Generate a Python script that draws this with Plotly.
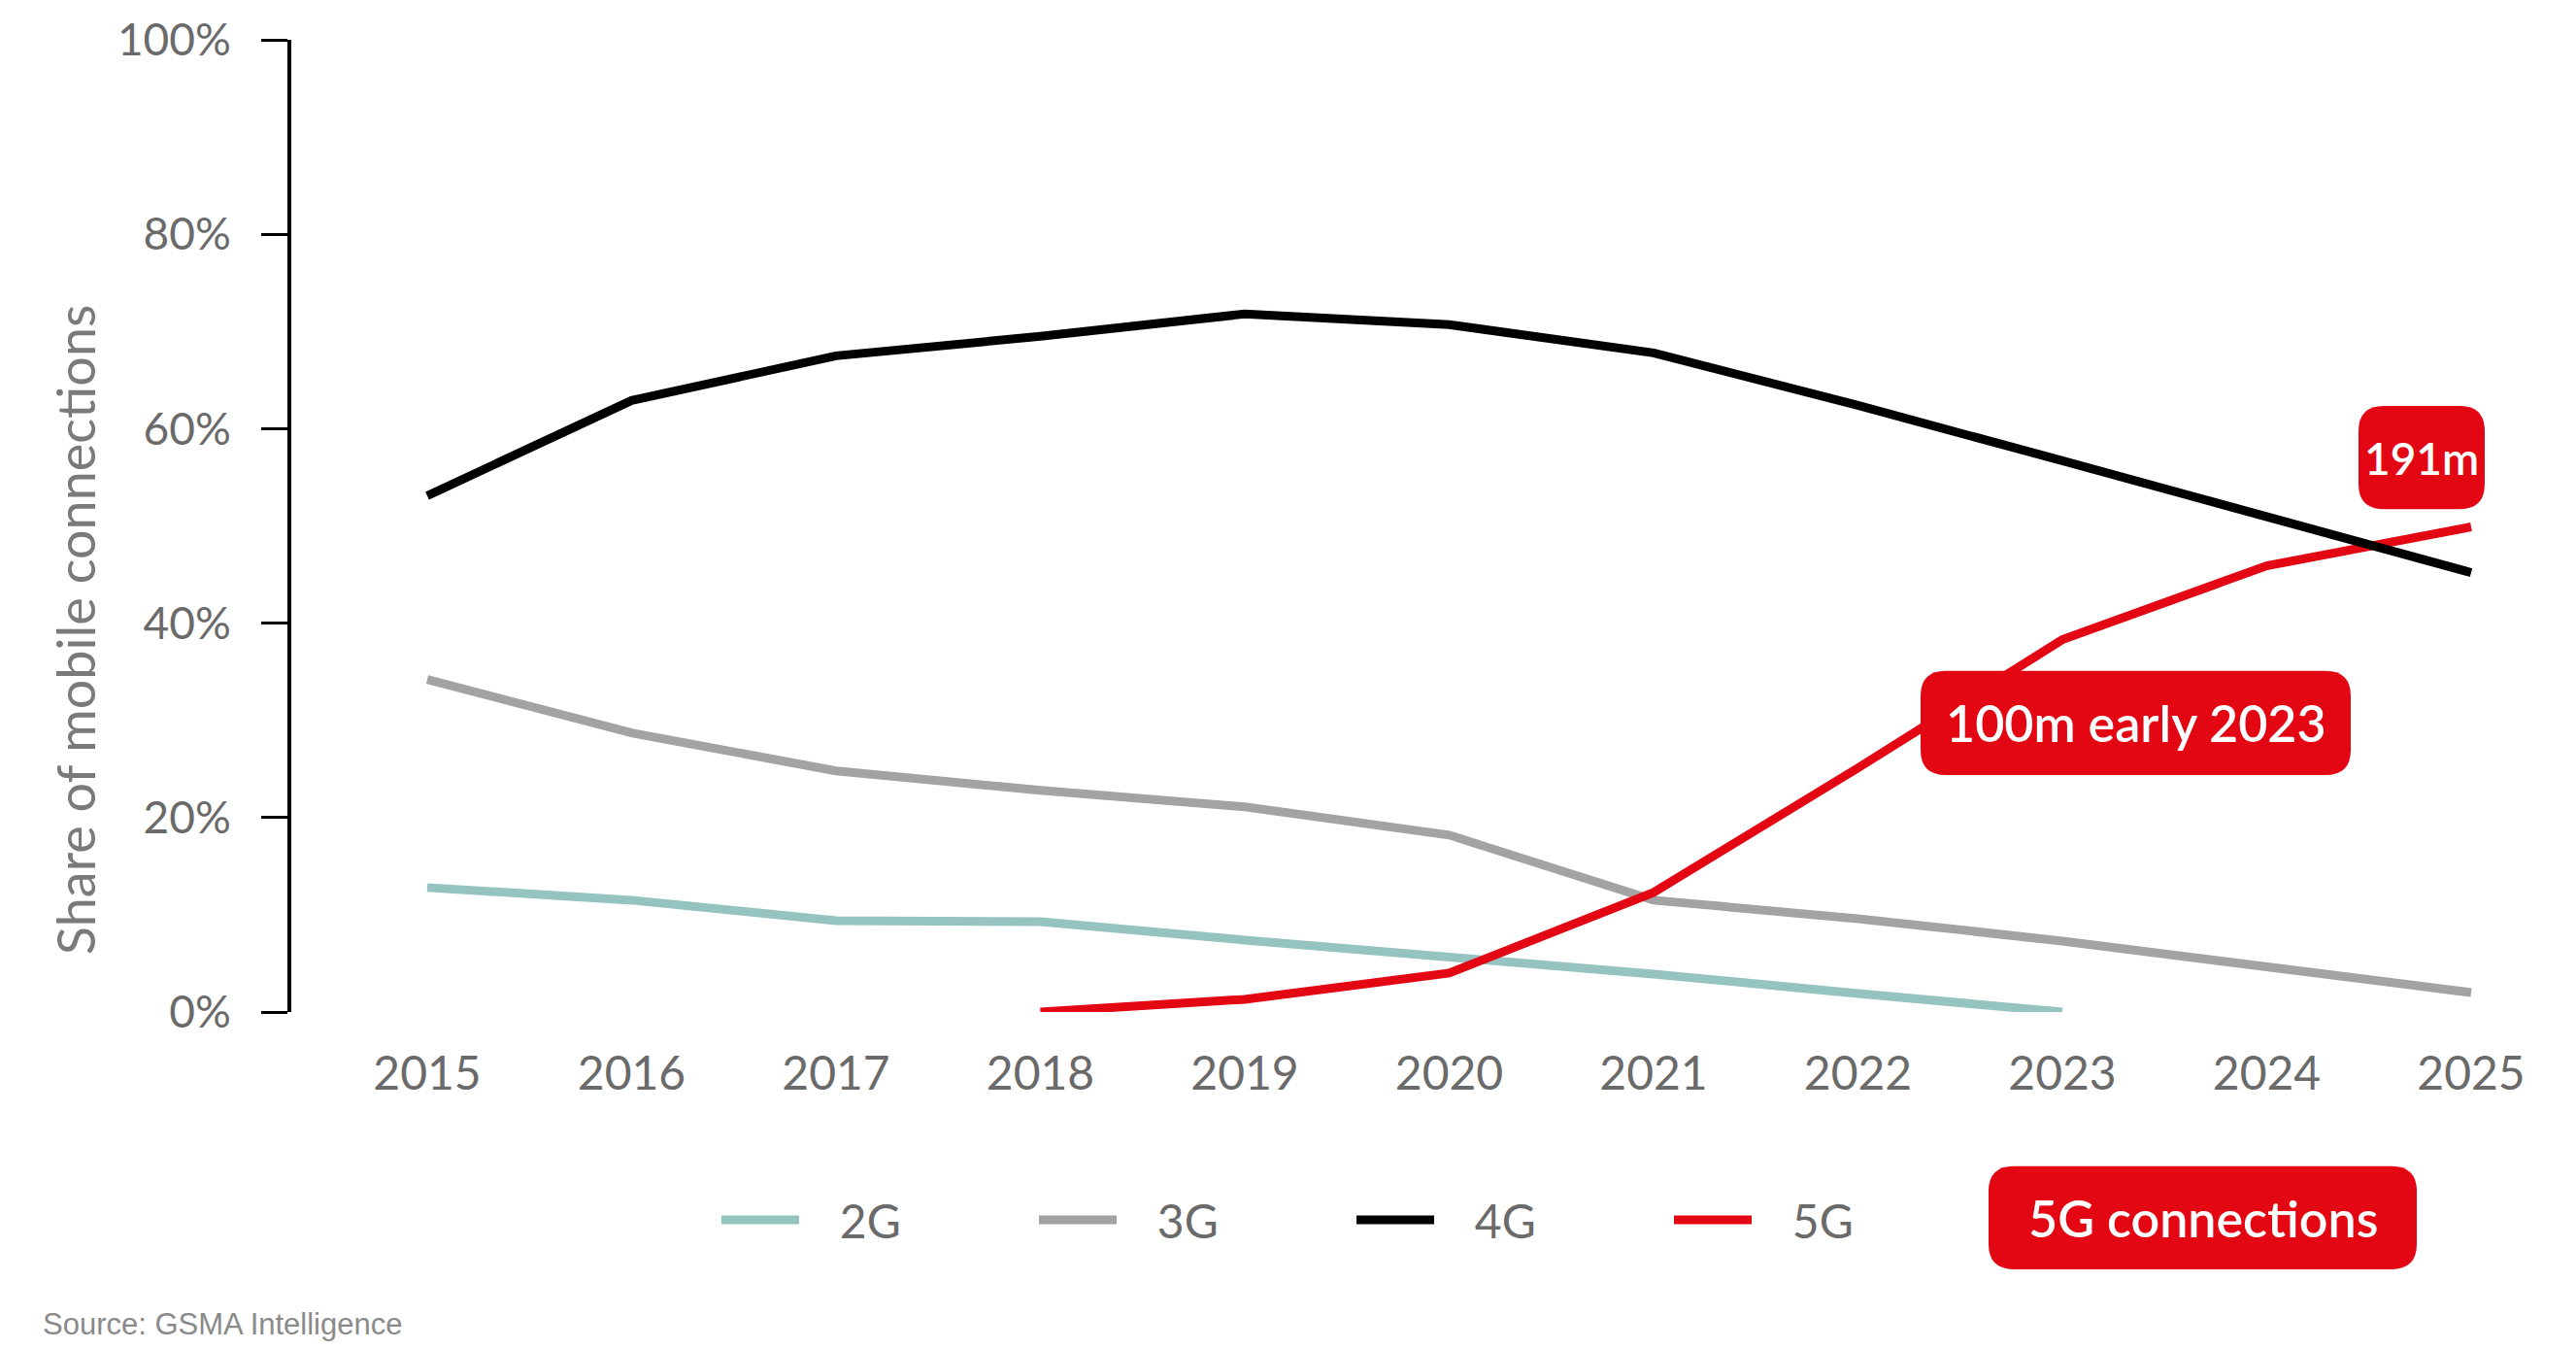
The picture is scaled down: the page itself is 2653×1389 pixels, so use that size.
import plotly.graph_objects as go

years = [2015, 2016, 2017, 2018, 2019, 2020, 2021, 2022, 2023, 2024, 2025]
share_2g = [12.8, 11.5, 9.4, 9.3, 7.4, 5.7, 3.9, 1.9, 0.0]
share_3g = [34.2, 28.7, 24.8, 22.8, 21.1, 18.2, 11.5, 9.6, 7.3, 4.7, 2.0]
share_4g = [53.1, 62.9, 67.5, 69.5, 71.8, 70.7, 67.8, 62.4, 56.7, 50.9, 45.2]
years_5g = [2018, 2019, 2020, 2021, 2022, 2023, 2024, 2025]
share_5g = [0.0, 1.3, 4.0, 12.3, 25.1, 38.3, 45.9, 49.9]
y_ticks = [0, 20, 40, 60, 80, 100]
y_tick_labels = ["0%", "20%", "40%", "60%", "80%", "100%"]

C2G, C3G, C4G, C5G = "#95C3BF", "#A3A3A3", "#000000", "#E30613"
TICK_COL = "#6A6A6A"
FONT = "Lato"
LW = 9

# plot area in pixels
W, H = 2653, 1389
L, R, T, B = 300, 2570, 33, 1042
X_FIRST_PX, X_LAST_PX = 440, 2545   # pixel positions of 2015 and 2025


def px(x):
    return (x - L) / (R - L)


def py(y):
    return (B - y) / (B - T)


def rounded(x0, y0, x1, y1, r):
    pts = [
        ("M", [(x0 + r, y0)]), ("L", [(x1 - r, y0)]), ("Q", [(x1, y0), (x1, y0 + r)]),
        ("L", [(x1, y1 - r)]), ("Q", [(x1, y1), (x1 - r, y1)]), ("L", [(x0 + r, y1)]),
        ("Q", [(x0, y1), (x0, y1 - r)]), ("L", [(x0, y0 + r)]), ("Q", [(x0, y0), (x0 + r, y0)]),
    ]
    s = ""
    for cmd, ps in pts:
        s += cmd + " ".join(f"{px(a):.5f},{py(b):.5f}" for a, b in ps) + " "
    return s + "Z"


ppy = (X_LAST_PX - X_FIRST_PX) / (years[-1] - years[0])
x_range = [years[0] - (X_FIRST_PX - L) / ppy, years[-1] + (R - X_LAST_PX) / ppy]

NB = "\u00a0"
fig = go.Figure()
fig.add_trace(go.Scatter(x=years[:len(share_2g)], y=share_2g, name=NB * 3 + "2G", mode="lines",
                         line=dict(color=C2G, width=LW), legendrank=1))
fig.add_trace(go.Scatter(x=years, y=share_3g, name=NB * 3 + "3G", mode="lines",
                         line=dict(color=C3G, width=LW), legendrank=2))
fig.add_trace(go.Scatter(x=years_5g, y=share_5g, name=NB * 3 + "5G", mode="lines",
                         line=dict(color=C5G, width=LW), legendrank=4))
fig.add_trace(go.Scatter(x=years, y=share_4g, name=NB * 3 + "4G", mode="lines",
                         line=dict(color=C4G, width=LW), legendrank=3))

boxes = [
    (2429, 413, 2559, 520, "191m", 46),
    (1978, 688, 2421, 796, "100m early 2023", 52),
    (2048, 1202, 2489, 1309, "5G connections", 52),
]
shapes = []
annotations = []
for x0, y0, x1, y1, txt, fs in boxes:
    shapes.append(dict(type="path", xref="paper", yref="paper", path=rounded(x0, y0, x1, y1, 26),
                       fillcolor=C5G, line=dict(width=0), layer="above"))
    annotations.append(dict(xref="paper", yref="paper", x=px((x0 + x1) / 2), y=py((y0 + y1) / 2),
                            text=txt, showarrow=False, xanchor="center", yanchor="middle",
                            font=dict(family=FONT, size=fs, color="white", weight=600)))

annotations.append(dict(xref="paper", yref="paper", x=px(77), y=py(645), text="Share of mobile connections",
                        textangle=-90, showarrow=False, xanchor="center", yanchor="middle",
                        font=dict(family=FONT, size=54, color="#7A7A7A")))
annotations.append(dict(xref="paper", yref="paper", x=px(42), y=py(1366), text="Source: GSMA Intelligence",
                        showarrow=False, xanchor="left", yanchor="middle",
                        font=dict(family="Liberation Sans", size=31, color="#8A8A8A")))

fig.update_layout(
    width=W, height=H,
    margin=dict(l=L, r=W - R, t=T, b=H - B, pad=0),
    paper_bgcolor="white", plot_bgcolor="white",
    showlegend=True,
    legend=dict(orientation="h", x=px(738), y=py(1258), xanchor="left", yanchor="middle",
                font=dict(family=FONT, size=48, color=TICK_COL),
                entrywidth=232, entrywidthmode="pixels", itemwidth=80,
                bgcolor="rgba(0,0,0,0)"),
    shapes=shapes,
    annotations=annotations,
    xaxis=dict(range=x_range,
               tickmode="array", tickvals=years, ticktext=[str(y) for y in years],
               showline=False, showgrid=False, zeroline=False, ticks="",
               ticklabelstandoff=31,
               tickfont=dict(family=FONT, size=48, color=TICK_COL)),
    yaxis=dict(range=[0, 100], tickmode="array", tickvals=y_ticks, ticktext=y_tick_labels,
               showline=True, linecolor="black", linewidth=4, showgrid=False, zeroline=False,
               ticks="outside", ticklen=27, tickwidth=3, tickcolor="black",
               ticklabelstandoff=22,
               tickfont=dict(family=FONT, size=46, color=TICK_COL)),
)

fig.write_html("out.html", config={"displayModeBar": False},
               post_script="document.body.style.margin='0';")
